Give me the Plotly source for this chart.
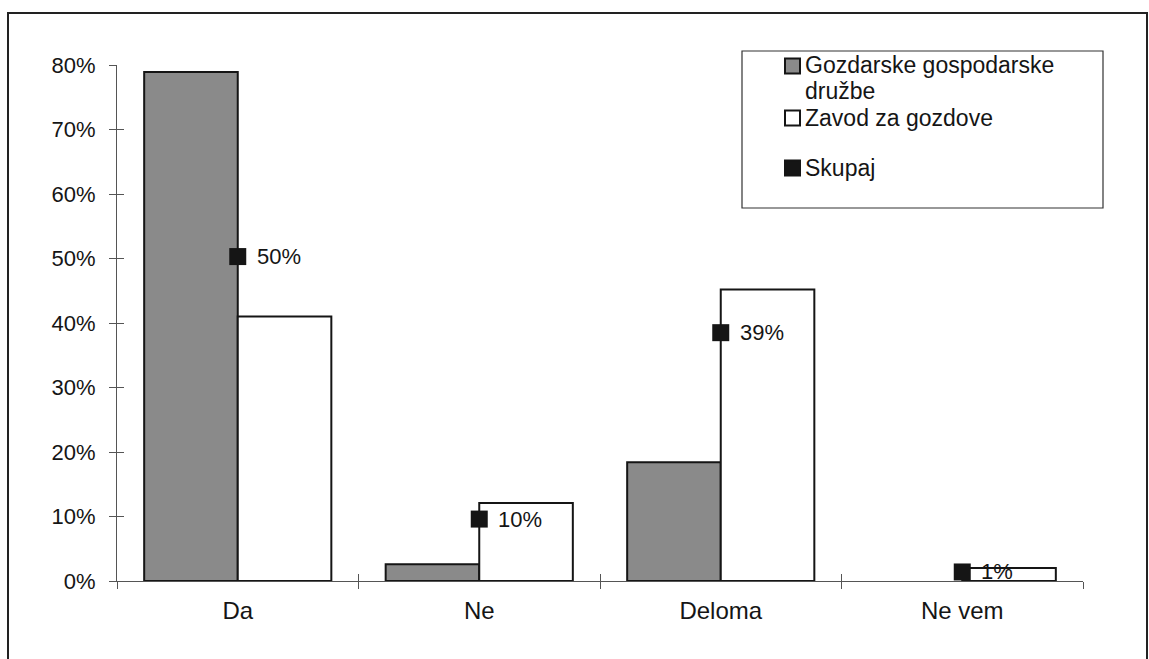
import plotly.graph_objects as go

# Survey answers and shares per group
categories = ["Da", "Ne", "Deloma", "Ne vem"]
gozdarske_druzbe = [0.789, 0.026, 0.184, 0.0]
zavod_za_gozdove = [0.410, 0.121, 0.452, 0.020]
skupaj = [0.503, 0.096, 0.385, 0.014]
skupaj_labels = ["50%", "10%", "39%", "1%"]
y_ticks = [0, 0.1, 0.2, 0.3, 0.4, 0.5, 0.6, 0.7, 0.8]

FONT = "Liberation Sans, Arial, sans-serif"
INK = "#151515"
AXIS_COLOR = "#555555"
GREY_FILL = "#8a8a8a"

W, H = 1149, 659
ML, MR, MT, MB = 117, 66, 65, 78
PW, PH = W - ML - MR, H - MT - MB


def px(x):
    """Pixel column -> paper x."""
    return (x - ML) / PW


def py(y):
    """Pixel row -> paper y."""
    return (H - MB - y) / PH


def outline_widths(values, width=2):
    """No outline on empty bars, so a zero bar leaves only the axis line."""
    return [width if v > 0 else 0 for v in values]


fig = go.Figure()

fig.add_trace(go.Bar(
    x=categories, y=gozdarske_druzbe, name="Gozdarske gospodarske družbe",
    marker=dict(color=GREY_FILL,
                line=dict(color=INK, width=outline_widths(gozdarske_druzbe))),
    showlegend=False,
))
fig.add_trace(go.Bar(
    x=categories, y=zavod_za_gozdove, name="Zavod za gozdove",
    marker=dict(color="#ffffff",
                line=dict(color=INK, width=outline_widths(zavod_za_gozdove))),
    showlegend=False,
))
fig.add_trace(go.Scatter(
    x=categories, y=skupaj, name="Skupaj", mode="markers",
    marker=dict(symbol="square", size=17, color=INK),
    showlegend=False,
))

# Second pair of axes, only to give the ticks their inner half
fig.add_trace(go.Scatter(x=categories, y=[None] * 4, xaxis="x2", yaxis="y2",
                         showlegend=False, hoverinfo="skip"))

annotations = []
# value labels next to the "Skupaj" markers
for cat, val, lab in zip(categories, skupaj, skupaj_labels):
    annotations.append(dict(
        x=cat, y=val, xref="x", yref="y", text=lab, showarrow=False,
        xanchor="left", yanchor="middle", xshift=17,
        font=dict(family=FONT, size=22, color=INK),
    ))

# legend box drawn by hand
legend_font = dict(family=FONT, size=23, color=INK)
legend_text = [
    ("Gozdarske gospodarske", 65),
    ("družbe", 91),
    ("Zavod za gozdove", 118),
    ("Skupaj", 168),
]
for txt, yy in legend_text:
    annotations.append(dict(
        x=px(803), y=py(yy), xref="paper", yref="paper", text=txt,
        showarrow=False, xanchor="left", yanchor="middle", font=legend_font,
    ))

legend_swatches = [(66, GREY_FILL, INK), (118, "#ffffff", INK), (168, INK, INK)]
shapes = [
    dict(type="rect", xref="paper", yref="paper",
         x0=px(742), x1=px(1103), y0=py(208), y1=py(51),
         line=dict(color="#333333", width=1.2), fillcolor="rgba(0,0,0,0)"),
]
for yy, fill, edge in legend_swatches:
    shapes.append(dict(
        type="rect", xref="paper", yref="paper",
        x0=px(785), x1=px(800), y0=py(yy + 7.5), y1=py(yy - 7.5),
        line=dict(color=edge, width=2), fillcolor=fill,
    ))
# outer chart frame
shapes.append(dict(
    type="rect", xref="paper", yref="paper",
    x0=px(8), x1=px(1147), y0=py(670), y1=py(13),
    line=dict(color="#222222", width=2), fillcolor="rgba(0,0,0,0)",
))

fig.update_layout(
    width=W, height=H,
    margin=dict(l=ML, r=MR, t=MT, b=MB),
    paper_bgcolor="white", plot_bgcolor="white",
    barmode="group", bargap=0.225, bargroupgap=0,
    font=dict(family=FONT, color=INK),
    showlegend=False,
    xaxis=dict(
        categoryorder="array", categoryarray=categories,
        showline=True, linecolor=AXIS_COLOR, linewidth=1,
        ticks="outside", ticklen=7, tickcolor=AXIS_COLOR, tickson="boundaries",
        tickfont=dict(family=FONT, size=24, color=INK), ticklabelstandoff=8,
        showgrid=False, zeroline=False,
    ),
    yaxis=dict(
        range=[0, 0.8], tickvals=y_ticks, tickformat=".0%",
        showline=True, linecolor=AXIS_COLOR, linewidth=1,
        ticks="outside", ticklen=7, tickcolor=AXIS_COLOR,
        tickfont=dict(family=FONT, size=22, color=INK), ticklabelstandoff=9,
        showgrid=False, zeroline=False,
    ),
    xaxis2=dict(
        overlaying="x", matches="x", categoryorder="array", categoryarray=categories,
        ticks="inside", ticklen=7, tickcolor=AXIS_COLOR, tickson="boundaries",
        showticklabels=False, showgrid=False, zeroline=False, showline=False,
    ),
    yaxis2=dict(
        overlaying="y", matches="y", tickvals=y_ticks,
        ticks="inside", ticklen=7, tickcolor=AXIS_COLOR,
        showticklabels=False, showgrid=False, zeroline=False, showline=False,
    ),
    annotations=annotations,
    shapes=shapes,
)

fig.write_html("out.html")
